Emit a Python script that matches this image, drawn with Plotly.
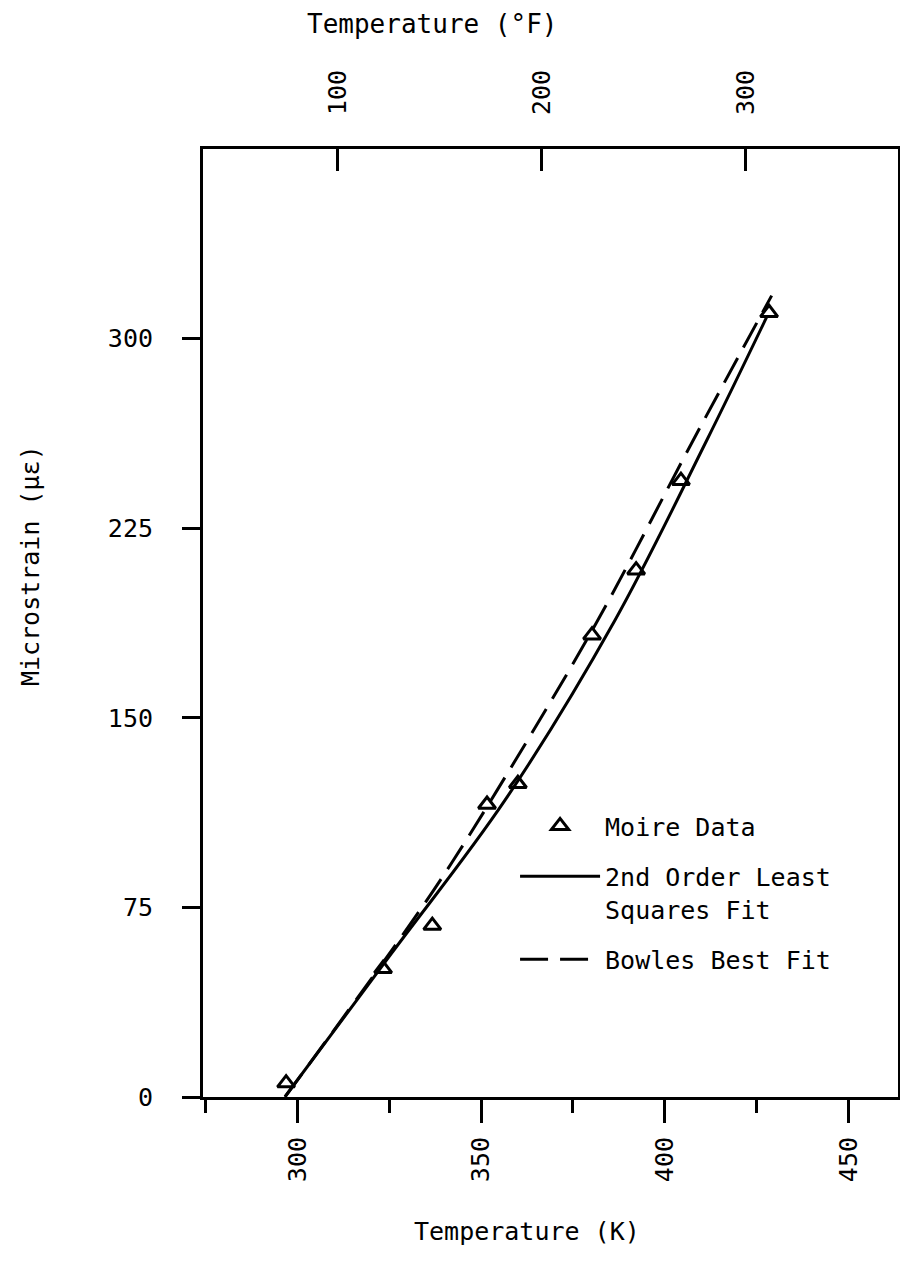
import plotly.graph_objects as go

# Moire data (temperature in K, microstrain)
data_temp_K = [296.9, 323.3, 336.7, 351.6, 360.0, 380.2, 392.2, 404.4, 428.4]
data_strain = [5.5, 50.7, 67.8, 115.7, 123.9, 182.7, 208.4, 243.8, 310.2]

# 2nd order least squares fit
fit_temp_K = [296.6, 325.6, 356.5, 386.4, 411.4, 427.7]
fit_strain = [0.1, 56.8, 117.4, 188.5, 259.7, 308.4]

# Bowles best fit
bowles_temp_K = [296.6, 325.5, 339.0, 354.0, 381.3, 407.7, 429.1]
bowles_strain = [0.0, 57.7, 86.0, 120.5, 187.4, 259.7, 317.0]

x_ticks_K = [300, 350, 400, 450]
x_minor_K = [275, 325, 375, 425]
x_ticks_F = [100, 200, 300]
y_ticks = [0, 75, 150, 225, 300]

x_range_K = [274.27, 463.5]
y_range = [0, 375]


def k_to_f(k):
    return (k - 273.15) * 9 / 5 + 32


FONT = "DejaVu Sans Mono"

fig = go.Figure()

fig.add_trace(go.Scatter(
    x=fit_temp_K, y=fit_strain, mode="lines",
    line=dict(color="black", width=3, shape="spline"),
    name="2nd Order Least<br>Squares Fit", legendrank=2, legendgroup="b",
))
fig.add_trace(go.Scatter(
    x=bowles_temp_K, y=bowles_strain, mode="lines",
    line=dict(color="black", width=3, shape="spline", dash="28px,12px"),
    name="Bowles Best Fit", legendrank=3, legendgroup="c",
))
fig.add_trace(go.Scatter(
    x=data_temp_K, y=data_strain, mode="markers",
    marker=dict(symbol="triangle-up-open", size=15, color="black",
                line=dict(width=3, color="black")),
    name="Moire Data", legendrank=1, legendgroup="a",
))
# invisible trace to activate the top (°F) axis
fig.add_trace(go.Scatter(
    x=[k_to_f(t) for t in data_temp_K], y=data_strain, xaxis="x2",
    mode="markers", marker=dict(opacity=0), showlegend=False, hoverinfo="skip",
))

fig.update_layout(
    width=892, height=1259, autosize=False,
    margin=dict(l=195, r=2, t=141, b=170, autoexpand=False),
    paper_bgcolor="white", plot_bgcolor="white",
    font=dict(family=FONT, size=25, color="black"),
    showlegend=True,
    legend=dict(x=0.449, y=0.31, xanchor="left", yanchor="top",
                bgcolor="rgba(0,0,0,0)", font=dict(family=FONT, size=25),
                itemwidth=80, valign="top", tracegroupgap=15,
                traceorder="grouped"),
    xaxis=dict(
        range=x_range_K, tickvals=x_ticks_K, ticktext=[str(v) for v in x_ticks_K],
        ticks="outside", ticklen=23, tickwidth=2.5, tickcolor="black",
        tickangle=-90, showline=True, linewidth=3, linecolor="black",
        mirror=True, showgrid=False, zeroline=False, ticklabelstandoff=4,
        automargin=False,
        tickfont=dict(family=FONT, size=25),
        minor=dict(tickvals=x_minor_K, ticks="outside", ticklen=13,
                   tickwidth=2.5, tickcolor="black", showgrid=False),
    ),
    xaxis2=dict(
        overlaying="x", side="top",
        range=[k_to_f(v) for v in x_range_K], tickvals=x_ticks_F,
        ticktext=[str(v) for v in x_ticks_F],
        ticks="inside", ticklen=22, tickwidth=2.5, tickcolor="black",
        tickangle=-90, showline=True, linewidth=3, linecolor="black",
        showgrid=False, zeroline=False, ticklabelstandoff=26,
        automargin=False,
        tickfont=dict(family=FONT, size=25),
    ),
    yaxis=dict(
        range=y_range, tickvals=y_ticks, ticktext=[str(v) for v in y_ticks],
        ticks="outside", ticklen=18, tickwidth=2.5, tickcolor="black",
        showline=True, linewidth=3, linecolor="black", mirror="ticks",
        showgrid=False, zeroline=False, ticklabelstandoff=24,
        automargin=False,
        tickfont=dict(family=FONT, size=25),
    ),
    annotations=[
        dict(text="Temperature (°F)", xref="paper", yref="paper",
             x=0.33, y=1.132, xanchor="center", yanchor="middle",
             showarrow=False, font=dict(family=FONT, size=26)),
        dict(text="Temperature (K)", xref="paper", yref="paper",
             x=0.466, y=-0.1424, xanchor="center", yanchor="middle",
             showarrow=False, font=dict(family=FONT, size=25)),
        dict(text="Microstrain (με)", xref="paper", yref="paper",
             x=-0.249, y=0.561, xanchor="center", yanchor="middle",
             textangle=-90, showarrow=False, font=dict(family=FONT, size=25)),
    ],
)

fig.write_html("out.html")
